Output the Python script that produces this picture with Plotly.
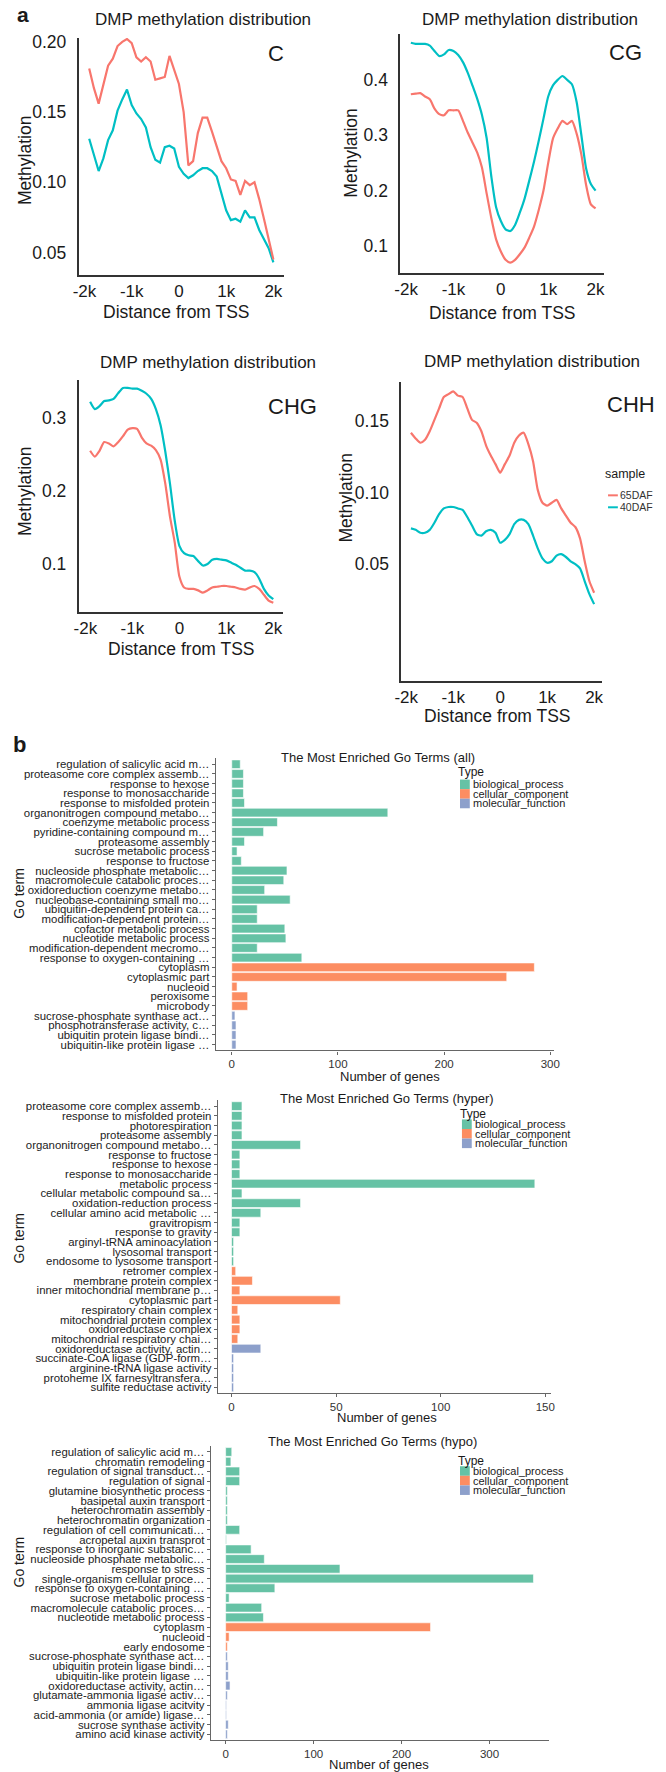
import plotly.graph_objects as go

W, H = 666, 1772
FONT = "Liberation Sans, Arial, sans-serif"
TXT = "#1a1a1a"
AX = "#333333"
RED = "#F8766D"
TEAL = "#00BFC4"
TYPE_COLORS = {"biological_process": "#66C2A5",
               "cellular_component": "#FC8D62",
               "molecular_function": "#8DA0CB"}

# ---------------- panel a data ----------------
distance = [-1900, -1800, -1700, -1600, -1500, -1400, -1300, -1200, -1100, -1000,
            -900, -800, -700, -600, -500, -400, -300, -200, -100, 0,
            100, 200, 300, 400, 500, 600, 700, 800, 900, 1000,
            1100, 1200, 1300, 1400, 1500, 1600, 1700, 1800, 1900, 2000]
dist_ticks = [-2000, -1000, 0, 1000, 2000]
dist_ticktext = ["-2k", "-1k", "0", "1k", "2k"]

C_65DAF = [0.181, 0.167, 0.156, 0.170, 0.183, 0.188, 0.197, 0.200, 0.202, 0.199,
           0.189, 0.186, 0.189, 0.186, 0.173, 0.174, 0.175, 0.190, 0.180, 0.170,
           0.150, 0.112, 0.115, 0.135, 0.146, 0.146, 0.136, 0.125, 0.115, 0.110,
           0.102, 0.101, 0.091, 0.101, 0.098, 0.100, 0.088, 0.074, 0.060, 0.045]
C_40DAF = [0.131, 0.120, 0.108, 0.117, 0.130, 0.137, 0.151, 0.159, 0.166, 0.155,
           0.149, 0.145, 0.139, 0.125, 0.116, 0.114, 0.125, 0.126, 0.124, 0.111,
           0.106, 0.103, 0.105, 0.108, 0.110, 0.110, 0.108, 0.104, 0.091, 0.080,
           0.073, 0.074, 0.072, 0.080, 0.075, 0.075, 0.066, 0.059, 0.053, 0.043]

CG_65DAF = [0.374, 0.375, 0.376, 0.370, 0.365, 0.348, 0.338, 0.336, 0.345, 0.345,
            0.345, 0.326, 0.305, 0.287, 0.269, 0.242, 0.195, 0.150, 0.112, 0.090,
            0.075, 0.070, 0.075, 0.085, 0.097, 0.115, 0.135, 0.165, 0.200, 0.250,
            0.294, 0.312, 0.326, 0.320, 0.326, 0.303, 0.265, 0.210, 0.175, 0.168]
CG_40DAF = [0.467, 0.465, 0.465, 0.465, 0.462, 0.452, 0.443, 0.446, 0.454, 0.452,
            0.445, 0.432, 0.413, 0.390, 0.366, 0.337, 0.295, 0.225, 0.170, 0.145,
            0.130, 0.127, 0.138, 0.160, 0.185, 0.218, 0.252, 0.290, 0.330, 0.370,
            0.390, 0.400, 0.407, 0.400, 0.392, 0.360, 0.300, 0.240, 0.212, 0.200]

CHG_65DAF = [0.255, 0.247, 0.255, 0.267, 0.265, 0.261, 0.267, 0.275, 0.284, 0.286,
             0.285, 0.273, 0.265, 0.262, 0.256, 0.243, 0.210, 0.165, 0.130, 0.083,
             0.068, 0.066, 0.066, 0.064, 0.061, 0.064, 0.068, 0.069, 0.070, 0.070,
             0.069, 0.068, 0.066, 0.065, 0.068, 0.070, 0.066, 0.058, 0.050, 0.047]
CHG_40DAF = [0.322, 0.312, 0.316, 0.323, 0.324, 0.326, 0.334, 0.341, 0.341, 0.340,
             0.340, 0.337, 0.333, 0.326, 0.312, 0.290, 0.254, 0.210, 0.160, 0.125,
             0.115, 0.112, 0.111, 0.104, 0.098, 0.100, 0.106, 0.107, 0.106, 0.105,
             0.102, 0.099, 0.095, 0.091, 0.091, 0.089, 0.080, 0.066, 0.057, 0.052]

CHH_65DAF = [0.142, 0.138, 0.135, 0.137, 0.143, 0.151, 0.159, 0.167, 0.169, 0.171,
             0.168, 0.167, 0.159, 0.151, 0.149, 0.143, 0.133, 0.126, 0.120, 0.114,
             0.120, 0.126, 0.135, 0.140, 0.142, 0.134, 0.122, 0.102, 0.093, 0.091,
             0.093, 0.095, 0.089, 0.084, 0.079, 0.076, 0.068, 0.052, 0.038, 0.030]
CHH_40DAF = [0.075, 0.074, 0.072, 0.072, 0.074, 0.079, 0.085, 0.089, 0.090, 0.090,
             0.089, 0.088, 0.083, 0.077, 0.071, 0.070, 0.073, 0.074, 0.072, 0.065,
             0.067, 0.071, 0.078, 0.081, 0.081, 0.078, 0.070, 0.061, 0.054, 0.051,
             0.052, 0.056, 0.057, 0.055, 0.052, 0.050, 0.047, 0.038, 0.029, 0.022]

# ---------------- panel b data ----------------
all_terms = [
    "regulation of salicylic acid m…", "proteasome core complex assemb…",
    "response to hexose", "response to monosaccharide", "response to misfolded protein",
    "organonitrogen compound metabo…", "coenzyme metabolic process",
    "pyridine-containing compound m…", "proteasome assembly", "sucrose metabolic process",
    "response to fructose", "nucleoside phosphate metabolic…",
    "macromolecule catabolic proces…", "oxidoreduction coenzyme metabo…",
    "nucleobase-containing small mo…", "ubiquitin-dependent protein ca…",
    "modification-dependent protein…", "cofactor metabolic process",
    "nucleotide metabolic process", "modification-dependent mecromo…",
    "response to oxygen-containing …", "cytoplasm", "cytoplasmic part", "nucleoid",
    "peroxisome", "microbody", "sucrose-phosphate synthase act…",
    "phosphotransferase activity, c…", "ubiquitin protein ligase bindi…",
    "ubiquitin-like protein ligase …"]
all_counts = [8, 11, 11, 11, 12, 147, 43, 30, 12, 5, 9, 52, 49, 31, 55, 24, 24, 50, 51, 24,
              66, 285, 259, 5, 15, 15, 3, 4, 4, 4]
all_types = (["biological_process"] * 21 + ["cellular_component"] * 5
             + ["molecular_function"] * 4)

hyper_terms = [
    "proteasome core complex assemb…", "response to misfolded protein", "photorespiration",
    "proteasome assembly", "organonitrogen compound metabo…", "response to fructose",
    "response to hexose", "response to monosaccharide", "metabolic process",
    "cellular metabolic compound sa…", "oxidation-reduction process",
    "cellular amino acid metabolic …", "gravitropism", "response to gravity",
    "arginyl-tRNA aminoacylation", "lysosomal transport", "endosome to lysosome transport",
    "retromer complex", "membrane protein complex", "inner mitochondrial membrane p…",
    "cytoplasmic part", "respiratory chain complex", "mitochondrial protein complex",
    "oxidoreductase complex", "mitochondrial respiratory chai…",
    "oxidoreductase activity, actin…", "succinate-CoA ligase (GDP-form…",
    "arginine-tRNA ligase activity", "protoheme IX farnesyltransfera…",
    "sulfite reductase activity"]
hyper_counts = [5, 5, 5, 5, 33, 4, 4, 4, 145, 5, 33, 14, 4, 4, 1, 1, 1, 2, 10, 4, 52, 3, 4, 4,
                3, 14, 1, 1, 1, 1]
hyper_types = (["biological_process"] * 17 + ["cellular_component"] * 8
               + ["molecular_function"] * 5)

hypo_terms = [
    "regulation of salicylic acid m…", "chromatin remodeling",
    "regulation of signal transduct…", "regulation of signal",
    "glutamine biosynthetic process", "basipetal auxin transport",
    "heterochromatin assembly", "heterochromatin organization",
    "regulation of cell communicati…", "acropetal auxin transprot",
    "response to inorganic substanc…", "nucleoside phosphate metabolic…",
    "response to stress", "single-organism cellular proce…",
    "response to oxygen-containing …", "sucrose metabolic process",
    "macromolecule catabolic proces…", "nucleotide metabolic process", "cytoplasm",
    "nucleoid", "early endosome", "sucrose-phosphate synthase act…",
    "ubiquitin protein ligase bindi…", "ubiquitin-like protein ligase …",
    "oxidoreductase activity, actin…", "glutamate-ammonia ligase activ…",
    "ammonia ligase acitvity", "acid-ammonia (or amide) ligase…",
    "sucrose synthase activity", "amino acid kinase activity"]
hypo_counts = [7, 6, 16, 16, 2, 2, 2, 2, 16, 1, 29, 44, 130, 350, 56, 4, 41, 43, 233, 4, 2,
               2, 3, 3, 5, 2, 1, 1, 3, 2]
hypo_types = (["biological_process"] * 18 + ["cellular_component"] * 3
              + ["molecular_function"] * 9)

legend_types = ["biological_process", "cellular_component", "molecular_function"]


def px(x):
    return x / W


def py(y):
    return 1 - y / H


fig = go.Figure()
layout = dict(width=W, height=H, margin=dict(l=0, r=0, t=0, b=0),
              paper_bgcolor="white", plot_bgcolor="white", showlegend=False,
              font=dict(family=FONT, color=TXT), bargap=0.1)
annotations = []
shapes = []


def ann(text, x, y, size, xanchor="center", yanchor="middle", angle=0, bold=False, color=TXT):
    if bold:
        text = "<b>" + text + "</b>"
    annotations.append(dict(text=text, x=px(x), y=py(y), xref="paper", yref="paper",
                            xanchor=xanchor, yanchor=yanchor, showarrow=False, textangle=angle,
                            font=dict(size=size, family=FONT, color=color)))


def axname(n):
    return "" if n == 1 else str(n)


# ---------------- line panels ----------------
line_panels = [
    (1, C_65DAF, C_40DAF, (73, 283), (32, 270), [-2125, 2235], [0.0339, 0.2028],
     [0.05, 0.10, 0.15, 0.20], ".2f", "C", (274, 48), "linear"),
    (2, CG_65DAF, CG_40DAF, (401, 609), (28, 268), [-2125, 2180], [0.051, 0.483],
     [0.1, 0.2, 0.3, 0.4], ".1f", "CG", (631, 47), "spline"),
    (3, CHG_65DAF, CHG_40DAF, (73, 281), (375, 608), [-2146, 2196], [0.0345, 0.3522],
     [0.1, 0.2, 0.3], ".1f", "CHG", (291, 402), "spline"),
    (4, CHH_65DAF, CHH_40DAF, (402, 607), (377, 677), [-2108, 2171], [-0.0316, 0.1777],
     [0.05, 0.10, 0.15], ".2f", "CHH", (636, 400), "spline"),
]

for (n, s65, s40, xd, yd, xr, yr, yt, fmt, lab, lpos, shape) in line_panels:
    a = axname(n)
    for vals, col, nm in ((s40, TEAL, "40DAF"), (s65, RED, "65DAF")):
        line = dict(color=col, width=2.2, shape=shape)
        if shape == "spline":
            line["smoothing"] = 0.6
        fig.add_trace(go.Scatter(x=distance, y=vals, mode="lines", name=nm, line=line,
                                 xaxis="x" + a, yaxis="y" + a, showlegend=False))
    layout["xaxis" + a] = dict(domain=[px(xd[0]), px(xd[1])], anchor="y" + a, range=xr,
                               tickvals=dist_ticks, ticktext=dist_ticktext, showline=True,
                               linecolor=AX, linewidth=1.5, ticks="", showgrid=False,
                               zeroline=False, ticklabelstandoff=0,
                               tickfont=dict(size=17, family=FONT, color=TXT))
    layout["yaxis" + a] = dict(domain=[py(yd[1]), py(yd[0])], anchor="x" + a, range=yr,
                               tickvals=yt, tickformat=fmt, showline=True, linecolor=AX,
                               linewidth=1.5, ticks="", showgrid=False, zeroline=False,
                               ticklabelstandoff=7,
                               tickfont=dict(size=17.5, family=FONT, color=TXT))
    ann(lab, lpos[0], lpos[1], 22)

for (cx, cy) in ((200, 14), (533, 14), (205, 358), (535, 357)):
    ann("DMP methylation distribution", cx, cy, 17)
for (cx, cy) in ((19, 155), (350, 147), (19, 487), (346, 493)):
    ann("Methylation", cx, cy, 17.5, angle=-90)
for (cx, cy) in ((173, 307), (505, 308), (178, 645), (500, 712)):
    ann("Distance from TSS", cx, cy, 17.5)

ann("a", 16, 9, 21, bold=True)

# sample legend (panel CHH)
ann("sample", 608, 470, 12.5, xanchor="left")
for lab, col, yy in (("65DAF", RED, 491), ("40DAF", TEAL, 503)):
    shapes.append(dict(type="line", xref="paper", yref="paper", x0=px(613), x1=px(623),
                       y0=py(yy), y1=py(yy), line=dict(color=col, width=2)))
    ann(lab, 623, yy, 10.5, xanchor="left", color="#333333")

# ---------------- bar panels ----------------
bar_panels = [
    (5, all_terms, all_counts, all_types, (213, 558), (755, 1048), [-15, 303.6],
     [0, 100, 200, 300], "The Most Enriched Go Terms (all)", (378, 754), (391, 1074),
     (12, 890), (458, 769, 781)),
    (6, hyper_terms, hyper_counts, hyper_types, (215, 555), (1098, 1392), [-6.56, 152.8],
     [0, 50, 100, 150], "The Most Enriched Go Terms (hyper)", (388, 1096), (388, 1416),
     (12, 1236), (460, 1112, 1122)),
    (7, hypo_terms, hypo_counts, hypo_types, (208, 553), (1445, 1740), [-16.7, 367.9],
     [0, 100, 200, 300], "The Most Enriched Go Terms (hypo)", (373, 1440), (379, 1764),
     (12, 1561), (458, 1460, 1470)),
]

GAX = "#666666"
for (n, terms, counts, types, xd, yd, xr, xt, title, tpos, xtpos, ytpos, leg) in bar_panels:
    a = axname(n)
    fig.add_trace(go.Bar(x=counts, y=terms, orientation="h",
                         marker=dict(color=[TYPE_COLORS[t] for t in types],
                                     line=dict(color="white", width=0.6)),
                         xaxis="x" + a, yaxis="y" + a, showlegend=False))
    layout["xaxis" + a] = dict(domain=[px(xd[0]), px(xd[1])], anchor="y" + a, range=xr,
                               tickvals=xt, showline=True, linecolor=GAX, linewidth=1.3,
                               ticks="outside", ticklen=3, tickcolor=GAX, showgrid=False,
                               zeroline=False,
                               tickfont=dict(size=11.5, family=FONT, color="#333333"))
    layout["yaxis" + a] = dict(domain=[py(yd[1]), py(yd[0])], anchor="x" + a,
                               type="category", categoryorder="array", categoryarray=terms,
                               range=[len(terms) - 0.4, -0.6], tickmode="linear", tick0=0,
                               dtick=1, showline=True, linecolor=GAX, linewidth=1.3,
                               ticks="outside", ticklen=3, tickcolor=GAX, showgrid=False,
                               zeroline=False,
                               tickfont=dict(size=11.4, family=FONT, color="#222222"))
    ann(title, tpos[0], tpos[1], 13)
    ann("Number of genes", xtpos[0], xtpos[1], 13)
    ann("Go term", ytpos[0], ytpos[1], 14, angle=-90)
    lx, ly_title, ly0 = leg
    ann("Type", lx, ly_title, 12, xanchor="left")
    for i, t in enumerate(legend_types):
        yy = ly0 + 9.6 * i
        shapes.append(dict(type="rect", xref="paper", yref="paper",
                           x0=px(lx + 4), x1=px(lx + 14), y0=py(yy + 4.8), y1=py(yy - 4.8),
                           fillcolor=TYPE_COLORS[t], line=dict(width=0)))
        ann(t, lx + 15, yy, 11, xanchor="left", color="#222222")

ann("b", 13, 741, 22, bold=True)

layout["annotations"] = annotations
layout["shapes"] = shapes
fig.update_layout(**layout)
fig.write_html("out.html", config={"displayModeBar": False},
               post_script="document.body.style.margin='0';"
                           "document.body.style.padding='0';"
                           "document.body.style.overflow='hidden';")
